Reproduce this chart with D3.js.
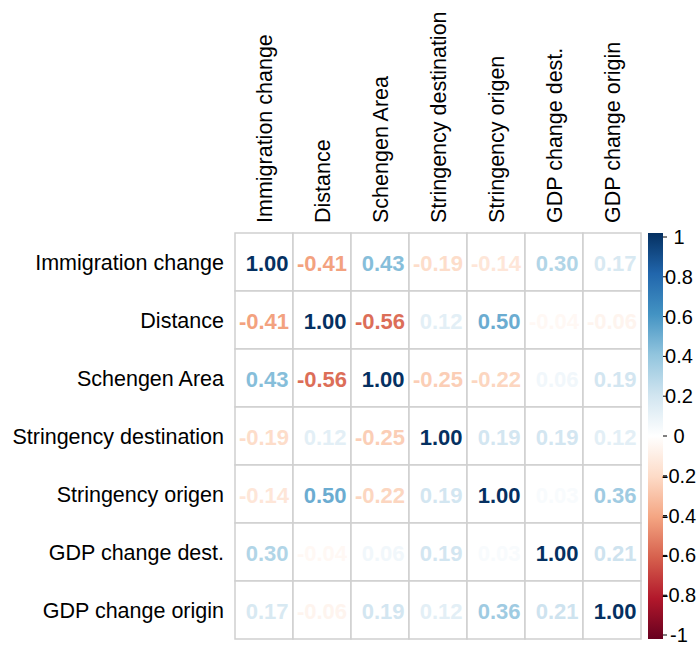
<!DOCTYPE html>
<html>
<head>
<meta charset="utf-8">
<script src="https://cdn.jsdelivr.net/npm/d3@7"></script>
<style>
  html, body { margin: 0; padding: 0; background: #fff; }
  svg { display: block; font-family: "Liberation Sans", Arial, sans-serif; }
</style>
</head>
<body>
<svg id="chart" width="697" height="645"></svg>
<script>
// Variable names (rows and columns share the same order)
const variables = [
  "Immigration change",
  "Distance",
  "Schengen Area",
  "Stringency destination",
  "Stringency origen",
  "GDP change dest.",
  "GDP change origin"
];

// Correlation matrix, one row per variable
const rowImmigration = [1.00, -0.41, 0.43, -0.19, -0.14, 0.30, 0.17];
const rowDistance    = [-0.41, 1.00, -0.56, 0.12, 0.50, -0.04, -0.06];
const rowSchengen    = [0.43, -0.56, 1.00, -0.25, -0.22, 0.06, 0.19];
const rowStringDest  = [-0.19, 0.12, -0.25, 1.00, 0.19, 0.19, 0.12];
const rowStringOrig  = [-0.14, 0.50, -0.22, 0.19, 1.00, 0.03, 0.36];
const rowGdpDest     = [0.30, -0.04, 0.06, 0.19, 0.03, 1.00, 0.21];
const rowGdpOrig     = [0.17, -0.06, 0.19, 0.12, 0.36, 0.21, 1.00];
const corrRows = [rowImmigration, rowDistance, rowSchengen, rowStringDest,
                  rowStringOrig, rowGdpDest, rowGdpOrig];

// Colour legend tick values and labels
const legendTicks  = [-1, -0.8, -0.6, -0.4, -0.2, 0, 0.2, 0.4, 0.6, 0.8, 1];
const legendLabels = ["-1", "-0.8", "-0.6", "-0.4", "-0.2", "0", "0.2", "0.4", "0.6", "0.8", "1"];

// Diverging red-blue palette
const paletteStops = ["#67001F", "#B2182B", "#D6604D", "#F4A582", "#FDDBC7", "#FFFFFF",
                      "#D1E5F0", "#92C5DE", "#4393C3", "#2166AC", "#053061"];

const svg = d3.select("#chart");

const gridLeft = 235, gridTop = 233, cellSize = 58;
const n = variables.length;

const x = d3.scaleBand().domain(variables).range([gridLeft, gridLeft + n * cellSize]);
const y = d3.scaleBand().domain(variables).range([gridTop, gridTop + n * cellSize]);

const color = d3.scaleLinear()
  .domain(d3.range(paletteStops.length).map(i => -1 + 2 * i / (paletteStops.length - 1)))
  .range(paletteStops)
  .interpolate(d3.interpolateRgb)
  .clamp(true);

const cells = [];
corrRows.forEach((row, i) => row.forEach((v, j) => cells.push({ r: variables[i], c: variables[j], v })));

// Cell grid
svg.append("g")
  .selectAll("rect")
  .data(cells)
  .join("rect")
  .attr("x", d => x(d.c))
  .attr("y", d => y(d.r))
  .attr("width", x.bandwidth())
  .attr("height", y.bandwidth())
  .attr("fill", "#fff")
  .attr("stroke", "#cfcfcf")
  .attr("stroke-width", 1.5);

// Correlation coefficients
svg.append("g")
  .selectAll("text")
  .data(cells)
  .join("text")
  .attr("x", d => x(d.c) + x.bandwidth() / 2)
  .attr("y", d => y(d.r) + y.bandwidth() / 2)
  .attr("dx", d => d.v >= 0 ? "0.14em" : "0")
  .attr("dy", "0.4em")
  .attr("text-anchor", "middle")
  .attr("font-size", 22)
  .attr("font-weight", "bold")
  .attr("fill", d => color(d.v))
  .text(d => d.v.toFixed(2));

// Row labels
svg.append("g")
  .selectAll("text")
  .data(variables)
  .join("text")
  .attr("x", gridLeft - 11)
  .attr("y", d => y(d) + y.bandwidth() / 2)
  .attr("dy", "0.35em")
  .attr("text-anchor", "end")
  .attr("font-size", 21.5)
  .attr("fill", "#000")
  .text(d => d);

// Column labels (vertical)
svg.append("g")
  .selectAll("text")
  .data(variables)
  .join("text")
  .attr("transform", d => `translate(${x(d) + x.bandwidth() / 2},${gridTop - 10}) rotate(-90)`)
  .attr("dy", "0.35em")
  .attr("text-anchor", "start")
  .attr("font-size", 21.5)
  .attr("fill", "#000")
  .text(d => d);

// Colour legend
const barX = 648, barW = 15, barTop = 233, barBottom = 639;
const defs = svg.append("defs");
const grad = defs.append("linearGradient")
  .attr("id", "corrGradient")
  .attr("x1", 0).attr("y1", 1).attr("x2", 0).attr("y2", 0);
grad.selectAll("stop")
  .data(paletteStops)
  .join("stop")
  .attr("offset", (d, i) => i / (paletteStops.length - 1))
  .attr("stop-color", d => d);

svg.append("rect")
  .attr("x", barX)
  .attr("y", barTop)
  .attr("width", barW)
  .attr("height", barBottom - barTop)
  .attr("fill", "url(#corrGradient)");

const legendY = d3.scaleLinear().domain([-1, 1]).range([635, 237]);

const legendG = svg.append("g");
legendG.selectAll("line")
  .data(legendTicks)
  .join("line")
  .attr("x1", barX + barW)
  .attr("x2", barX + barW + 4)
  .attr("y1", d => legendY(d))
  .attr("y2", d => legendY(d))
  .attr("stroke", "#000")
  .attr("stroke-width", 1);

legendG.selectAll("text")
  .data(legendTicks)
  .join("text")
  .attr("x", 679)
  .attr("y", d => legendY(d))
  .attr("dy", "0.35em")
  .attr("text-anchor", "middle")
  .attr("font-size", 20)
  .attr("fill", "#000")
  .text((d, i) => legendLabels[i]);
</script>
</body>
</html>
